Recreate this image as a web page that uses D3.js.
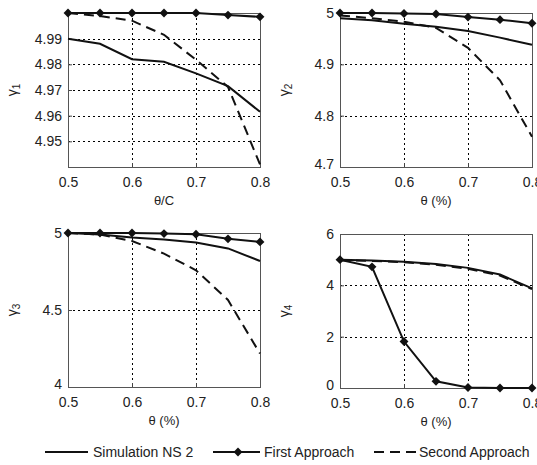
<!DOCTYPE html>
<html>
<head>
<meta charset="utf-8">
<script src="https://cdn.jsdelivr.net/npm/d3@7"></script>
<style>
  body { margin: 0; background: #fff; }
  svg { font-family: "Liberation Sans", Arial, sans-serif; }
</style>
</head>
<body>
<div id="chart"></div>
<script>
// x positions (theta)
var thetas = [0.5, 0.55, 0.6, 0.65, 0.7, 0.75, 0.8];

// gamma 1
var sim1    = [4.990, 4.988, 4.982, 4.981, 4.9765, 4.9715, 4.9615];
var first1  = [5.000, 5.000, 5.000, 5.000, 5.000, 4.9992, 4.9985];
var second1 = [5.000, 4.9988, 4.997, 4.9915, 4.9818, 4.9712, 4.941];
// gamma 2
var sim2    = [4.990, 4.986, 4.979, 4.973, 4.965, 4.952, 4.938];
var first2  = [5.000, 5.000, 4.999, 4.998, 4.992, 4.987, 4.980];
var second2 = [4.995, 4.990, 4.983, 4.971, 4.932, 4.869, 4.759];
// gamma 3
var sim3    = [5.000, 4.990, 4.970, 4.958, 4.938, 4.900, 4.818];
var first3  = [5.000, 5.000, 5.000, 4.996, 4.992, 4.962, 4.942];
var second3 = [5.000, 4.990, 4.948, 4.866, 4.758, 4.565, 4.217];
// gamma 4
var sim4    = [5.000, 4.970, 4.920, 4.830, 4.680, 4.420, 3.880];
var first4  = [5.000, 4.720, 1.810, 0.260, 0.020, 0.000, 0.000];
var second4 = [4.980, 4.950, 4.900, 4.800, 4.650, 4.380, 3.850];

var xTicks = [0.5, 0.6, 0.7, 0.8];

var panels = [
  {left: 68, top: 13, ylab: "1", xlab: "\u03b8/C", domain: [4.94, 5.0],
   yTicks: [4.95, 4.96, 4.97, 4.98, 4.99, 5.0], showTop: false, fmt: d3.format(".2f"),
   sim: sim1, first: first1, second: second1},
  {left: 340, top: 13, ylab: "2", xlab: "\u03b8 (%)", domain: [4.7, 5.0],
   yTicks: [4.7, 4.8, 4.9, 5.0], showTop: true, fmt: function(d){ return d === 5 ? "5" : d3.format(".1f")(d); },
   sim: sim2, first: first2, second: second2},
  {left: 68, top: 233, ylab: "3", xlab: "\u03b8 (%)", domain: [4, 5],
   yTicks: [4, 4.5, 5], showTop: true, fmt: function(d){ return d % 1 === 0 ? d : d3.format(".1f")(d); },
   sim: sim3, first: first3, second: second3},
  {left: 340, top: 234, ylab: "4", xlab: "\u03b8 (%)", domain: [0, 6],
   yTicks: [0, 2, 4, 6], showTop: true, fmt: d3.format("d"),
   sim: sim4, first: first4, second: second4}
];

var W = 537, H = 465;
var pw = 192, ph = 154;

var svg = d3.select("#chart").append("svg")
  .attr("width", W).attr("height", H);

function marker(sel, cx, cy) {
  sel.append("path").attr("d", d3.symbol().type(d3.symbolDiamond2).size(50))
    .attr("transform", "translate(" + cx + "," + cy + ")").attr("fill", "#111");
  sel.append("path").attr("d", d3.symbol().type(d3.symbolPlus).size(60))
    .attr("transform", "translate(" + cx + "," + cy + ")").attr("fill", "#111");
}

panels.forEach(function(p){
  var g = svg.append("g").attr("transform", "translate(" + p.left + "," + p.top + ")");
  var x = d3.scaleLinear().domain([0.5, 0.8]).range([0, pw]);
  var y = d3.scaleLinear().domain(p.domain).range([ph, 0]);

  // dotted grid
  var gridX = xTicks.slice(1, -1);
  var gridY = p.yTicks.filter(function(d){ return d > p.domain[0] && d < p.domain[1]; });
  var grid = g.append("g").attr("class", "grid");
  gridX.forEach(function(d){
    grid.append("line")
      .attr("x1", Math.round(x(d)) + 0.5).attr("x2", Math.round(x(d)) + 0.5)
      .attr("y1", 0).attr("y2", ph)
      .style("stroke", "#000").style("stroke-width", "1px").style("stroke-dasharray", "2,3");
  });
  gridY.forEach(function(d){
    grid.append("line")
      .attr("y1", Math.round(y(d)) + 0.5).attr("y2", Math.round(y(d)) + 0.5)
      .attr("x1", 0).attr("x2", pw)
      .style("stroke", "#000").style("stroke-width", "1px").style("stroke-dasharray", "2,3");
  });

  // axes with inward ticks
  var xAxis = d3.axisBottom(x).tickValues(xTicks).tickSize(-4).tickPadding(10)
    .tickFormat(d3.format(".1f"));
  var yAxis = d3.axisLeft(y).tickValues(p.showTop ? p.yTicks : p.yTicks.filter(function(d){ return d < 5; }))
    .tickSize(-4).tickPadding(6).tickFormat(p.fmt);
  var gx = g.append("g").attr("transform", "translate(0," + ph + ")").call(xAxis);
  var gy = g.append("g").call(yAxis);
  [gx, gy].forEach(function(a){
    a.select(".domain").remove();
    a.selectAll("line").attr("stroke", "#444");
    a.selectAll("text").attr("font-size", "14px").attr("fill", "#222")
      .attr("font-family", "Liberation Sans, Arial, sans-serif");
  });
  // bottom-most y label sits slightly above the corner (matlab style)
  gy.selectAll(".tick text").filter(function(d){ return d === p.domain[0]; }).attr("dy", "0.1em");

  // box
  g.append("rect").attr("x", 0.5).attr("y", 0.5).attr("width", pw).attr("height", ph)
    .attr("fill", "none").attr("stroke", "#555").attr("stroke-width", 1);

  var line = d3.line()
    .x(function(d, i){ return x(thetas[i]); })
    .y(function(d){ return y(d); });

  g.append("path").datum(p.sim).attr("d", line)
    .attr("fill", "none").attr("stroke", "#111").attr("stroke-width", 2);
  g.append("path").datum(p.second).attr("d", line)
    .attr("fill", "none").attr("stroke", "#111").attr("stroke-width", 2)
    .attr("stroke-dasharray", "10,6");
  g.append("path").datum(p.first).attr("d", line)
    .attr("fill", "none").attr("stroke", "#111").attr("stroke-width", 2);

  p.first.forEach(function(d, i){ marker(g, x(thetas[i]), y(d)); });

  // axis labels
  g.append("text").attr("x", pw / 2).attr("y", ph + 38)
    .attr("text-anchor", "middle").attr("font-size", "13px").attr("fill", "#222")
    .text(p.xlab);
  var yl = g.append("text")
    .attr("transform", "translate(" + (-51) + "," + (ph / 2) + ") rotate(-90)")
    .attr("text-anchor", "middle").attr("font-size", "14px").attr("fill", "#222");
  yl.append("tspan").text("\u03b3");
  yl.append("tspan").attr("font-size", "10px").attr("dy", "3").text(p.ylab);
});

// legend
var leg = svg.append("g").attr("transform", "translate(0,452)");
leg.append("line").attr("x1", 45).attr("x2", 88).attr("stroke", "#111").attr("stroke-width", 2);
leg.append("text").attr("x", 93).attr("y", 5).attr("font-size", "14px").attr("fill", "#222").text("Simulation NS 2");
leg.append("line").attr("x1", 213).attr("x2", 260).attr("stroke", "#111").attr("stroke-width", 2);
marker(leg, 238, 0);
leg.append("text").attr("x", 264).attr("y", 5).attr("font-size", "14px").attr("fill", "#222").text("First Approach");
leg.append("line").attr("x1", 374).attr("x2", 416).attr("stroke", "#111").attr("stroke-width", 2).attr("stroke-dasharray", "10,6");
leg.append("text").attr("x", 419).attr("y", 5).attr("font-size", "14px").attr("fill", "#222").text("Second Approach");
</script>
</body>
</html>
